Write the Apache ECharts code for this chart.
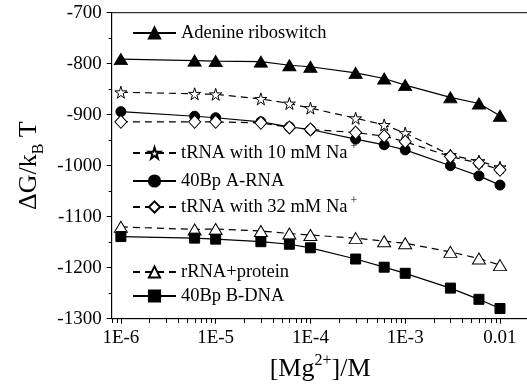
<!DOCTYPE html>
<html>
<head>
<meta charset="utf-8">
<style>
    html, body { margin: 0; padding: 0; background: #fff; }
    #echarts { width: 527px; height: 386px; }
</style>
</head>
<body>
<div id="echarts"></div>
<script src="https://cdn.jsdelivr.net/npm/echarts@6/dist/echarts.min.js"></script>
<script>
    // 数据
    const mgConc = [1e-6, 6e-6, 1e-5, 3e-5, 6e-5, 1e-4, 3e-4, 6e-4, 1e-3, 3e-3, 6e-3, 1e-2];
    const adenine = [-791, -794, -795, -796, -803, -806, -818, -829, -842, -866, -878, -902];
    const trna10 = [-856, -859, -860, -869, -878, -887, -907, -920, -936, -979, -991, -1003];
    const aRna = [-894, -903, -906, -914, -924, -929, -948, -959, -969, -1000, -1020, -1038];
    const trna32 = [-914, -914, -914, -916, -925, -929, -935, -942, -953, -982, -995, -1008];
    const rRna = [-1120, -1125, -1124, -1128, -1133, -1136, -1142, -1148, -1152, -1169, -1182, -1195];
    const bDna = [-1139, -1142, -1144, -1149, -1154, -1161, -1183, -1199, -1211, -1240, -1262, -1280];
    const seriesNames = ['Adenine riboswitch', 'tRNA with 10 mM Na+', '40Bp A-RNA', 'tRNA with 32 mM Na+', 'rRNA+protein', '40Bp B-DNA'];
    const xTickValues = [1e-6, 1e-5, 1e-4, 1e-3, 1e-2];
    const xTickLabels = ['1E-6', '1E-5', '1E-4', '1E-3', '0.01'];

    const xMin = 8e-7, xMax = 0.02, yMin = -1300, yMax = -700;
    const font = "'Liberation Serif', 'Times New Roman', serif";

    // 次刻度 (对数)
    let xMinorValues = [];
    for (let d = -7; d <= -2; d++) {
        for (let m = 2; m <= 9; m++) {
            let v = parseFloat(m + 'e' + d);
            if (v >= xMin && v < xMax) xMinorValues.push(v);
        }
    }

    const star = 'path://M50,0 L61,35 L98,35 L68,57 L79,91 L50,70 L21,91 L32,57 L2,35 L39,35 Z';

    function pairs(ys) {
        return mgConc.map((x, i) => [x, ys[i]]);
    }

    function makeSeries(name, ys, symbol, size, filled, dashed) {
        return {
            name: name,
            type: 'line',
            data: pairs(ys),
            symbol: symbol,
            symbolSize: size,
            showAllSymbol: true,
            lineStyle: {color: '#000', width: 1.2, type: dashed ? [7, 5] : 'solid'},
            itemStyle: {color: filled ? '#000' : '#fff', borderColor: '#000', borderWidth: 1},
            emphasis: {disabled: true},
            animation: false
        };
    }

    let legendCenters = [33, 153, 181, 207, 272, 296];
    let legends = seriesNames.map((name, i) => ({
        data: [name],
        left: 132,
        top: legendCenters[i] - 12,
        padding: 0,
        itemWidth: 43,
        itemHeight: 14,
        itemGap: 0,
        selectedMode: false,
        textStyle: {
            fontFamily: font, fontSize: 18.5, color: '#000', lineHeight: 24,
            rich: {
                n: {fontFamily: font, fontSize: 18.5, color: '#000', lineHeight: 24},
                s: {fontFamily: font, fontSize: 12, color: '#000', lineHeight: 12, verticalAlign: 'top'}
            }
        },
        formatter: function (n) {
            if (n.endsWith('Na+')) return '{n|' + n.slice(0, -1) + '}{s| +}';
            return '{n|' + n + '}';
        }
    }));

    let myChart = echarts.init(document.getElementById('echarts'), null, {renderer: 'canvas'});

    myChart.setOption({
        backgroundColor: '#fff',
        animation: false,
        grid: [{
            left: 111.7, top: 12.7, right: -1.5, bottom: 67.3,
            show: true, borderColor: '#000', borderWidth: 1, backgroundColor: 'transparent',
            outerBoundsMode: 'none'
        }, {
            // 次刻度用的窄条
            left: 111.7, top: 319, right: -1.5, height: 4,
            show: false, outerBoundsMode: 'none'
        }],
        legend: legends,
        xAxis: [{
            type: 'log',
            logBase: 10,
            min: xMin,
            max: xMax,
            name: '{m|[Mg}{p|2+}{m|]/M}',
            nameLocation: 'middle',
            nameGap: 27,
            nameTextStyle: {
                rich: {
                    m: {fontFamily: font, fontSize: 26, color: '#000', lineHeight: 34},
                    p: {fontFamily: font, fontSize: 16, color: '#000', lineHeight: 16, verticalAlign: 'top'}
                }
            },
            axisLine: {lineStyle: {color: '#000', width: 1}},
            axisTick: {customValues: xTickValues, length: 5, lineStyle: {color: '#000'}},
            axisLabel: {
                customValues: xTickValues,
                fontFamily: font, fontSize: 19, color: '#000', margin: 10,
                formatter: function (v) {
                    let i = xTickValues.findIndex(t => Math.abs(Math.log10(t) - Math.log10(v)) < 1e-6);
                    return i >= 0 ? xTickLabels[i] : '';
                }
            },
            splitLine: {show: false}
        }, {
            gridIndex: 1,
            type: 'log',
            logBase: 10,
            min: xMin,
            max: xMax,
            show: false
        }],
        yAxis: [{
            type: 'value',
            min: yMin,
            max: yMax,
            interval: 100,
            name: '{m|ΔG/k}{b|B}{m| T}',
            nameLocation: 'middle',
            nameGap: 61,
            nameTextStyle: {
                rich: {
                    m: {fontFamily: font, fontSize: 26, color: '#000', lineHeight: 34},
                    b: {fontFamily: font, fontSize: 16, color: '#000', lineHeight: 16, verticalAlign: 'bottom'}
                }
            },
            axisLine: {show: true, lineStyle: {color: '#000', width: 1}},
            axisTick: {show: true, length: 5, lineStyle: {color: '#000'}},
            minorTick: {show: true, splitNumber: 2, length: 3, lineStyle: {color: '#000'}},
            axisLabel: {
                fontFamily: font, fontSize: 19, color: '#000', margin: 10,
                formatter: v => String(v)
            },
            splitLine: {show: false}
        }, {
            gridIndex: 1,
            type: 'value',
            min: 0,
            max: 1,
            show: false
        }],
        series: [
            makeSeries(seriesNames[0], adenine, 'triangle', [13, 11], true, false),
            makeSeries(seriesNames[1], trna10, star, 12, false, true),
            makeSeries(seriesNames[2], aRna, 'circle', 10, true, false),
            makeSeries(seriesNames[3], trna32, 'diamond', [12, 13], false, true),
            makeSeries(seriesNames[4], rRna, 'triangle', [13, 11], false, true),
            makeSeries(seriesNames[5], bDna, 'rect', 10, true, false),
            {
                // x轴次刻度
                type: 'custom',
                xAxisIndex: 1,
                yAxisIndex: 1,
                silent: true,
                data: xMinorValues.map(v => [v, 1]),
                renderItem: function (params, api) {
                    let top = api.coord([api.value(0), 1]);
                    let bottom = api.coord([api.value(0), 0]);
                    let x = Math.round(top[0]) + 0.5;
                    return {
                        type: 'line',
                        shape: {x1: x, y1: top[1], x2: x, y2: bottom[1]},
                        style: {stroke: '#000', lineWidth: 1}
                    };
                }
            }
        ]
    });
</script>
</body>
</html>
